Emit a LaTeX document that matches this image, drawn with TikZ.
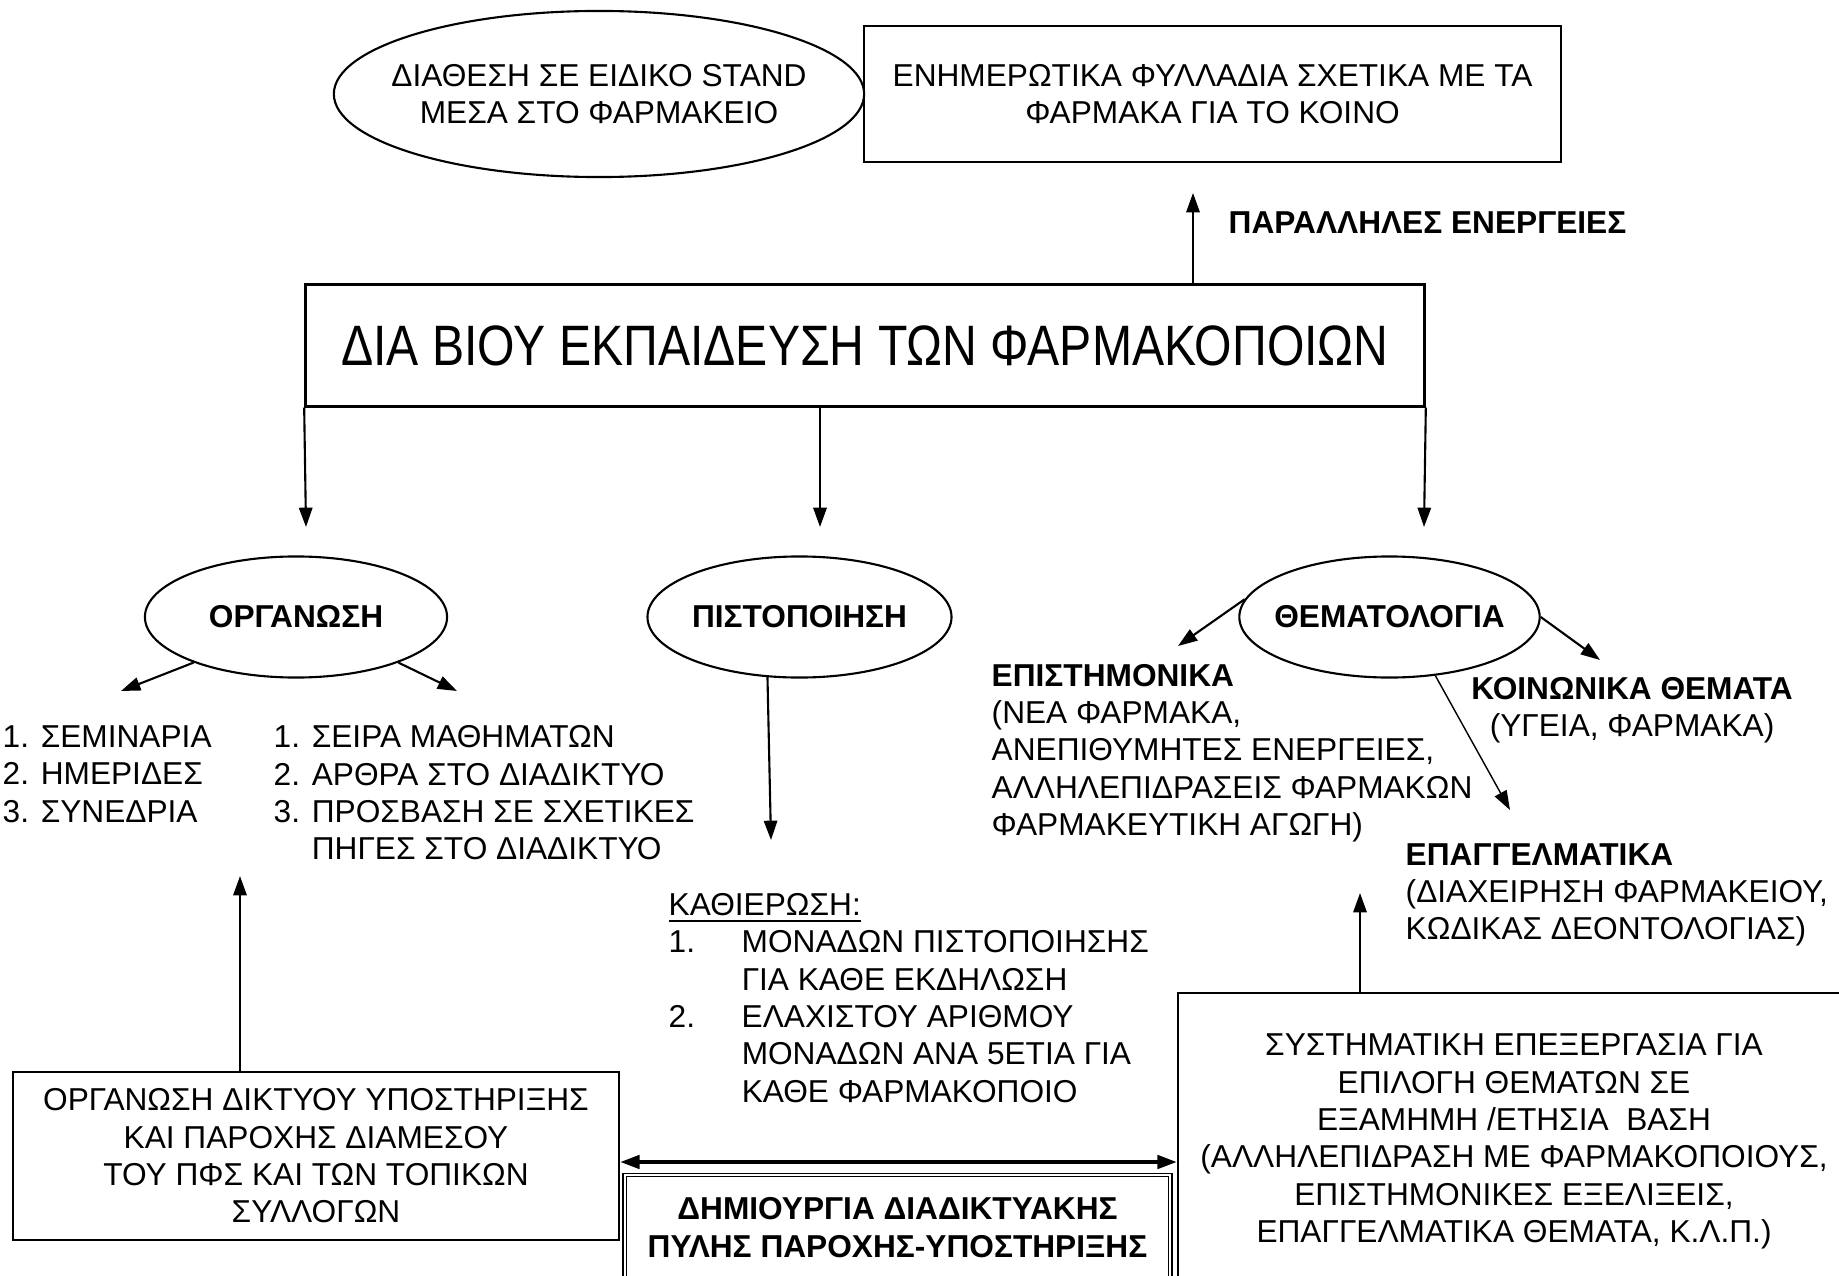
\documentclass[tikz,border=0pt]{standalone}
\usepackage{fontspec}
\setmainfont{Liberation Sans}
\newfontfamily\titlefont{Liberation Sans}[FakeStretch=0.845]
\usepackage{tikz}
\usetikzlibrary{shapes.geometric, arrows.meta, positioning, calc}

\newcommand{\listno}[1]{\makebox[0.73cm][l]{#1}}

\begin{document}
\begin{tikzpicture}[
    x=0.01cm, y=-0.01cm,
    >={Triangle[length=5.5pt, width=3.8pt]},
    every node/.style={font=\fontsize{9}{10.6}\selectfont, inner sep=0pt},
    bold/.style={font=\fontsize{9}{10.6}\selectfont\bfseries},
    box/.style={rectangle, draw, line width=0.6pt, align=center},
    oval/.style={ellipse, draw, line width=0.6pt, align=center, minimum height=1.21cm},
    notes/.style={align=left, anchor=west},
    link/.style={->, line width=0.6pt}
]
    \useasboundingbox (0,0) rectangle (1839,1276);
    \clip (0,0) rectangle (1839,1276);

    % parallel actions
    \node (stand) [oval, inner xsep=-0.23cm, minimum width=5.3cm, minimum height=1.66cm] at (599,94) {ΔΙΑΘΕΣΗ ΣΕ ΕΙΔΙΚΟ STAND\\ΜΕΣΑ ΣΤΟ ΦΑΡΜΑΚΕΙΟ};
    \node (leaflet) [box, minimum width=6.97cm, minimum height=1.36cm] at (1212.5,94) {ΕΝΗΜΕΡΩΤΙΚΑ ΦΥΛΛΑΔΙΑ ΣΧΕΤΙΚΑ ΜΕ ΤΑ\\ΦΑΡΜΑΚΑ ΓΙΑ ΤΟ ΚΟΙΝΟ};

    \node (main) [box, line width=0.85pt, minimum width=11.18cm, minimum height=1.21cm, font=\titlefont\fontsize{16.2}{19}\selectfont] at (865,345.5) {ΔΙΑ ΒΙΟΥ ΕΚΠΑΙΔΕΥΣΗ ΤΩΝ ΦΑΡΜΑΚΟΠΟΙΩΝ};

    \coordinate (parTip) at (1193,193);
    \draw[link] (main.north -| parTip) -- (parTip);
    \node (parLbl) [bold, anchor=west] at (1228,223) {ΠΑΡΑΛΛΗΛΕΣ ΕΝΕΡΓΕΙΕΣ};

    % three branches
    \node (org) [oval, bold, minimum width=3.02cm] at (296,617) {ΟΡΓΑΝΩΣΗ};
    \node (pist) [oval, bold, minimum width=3.01cm] at (799.5,617) {ΠΙΣΤΟΠΟΙΗΣΗ};
    \node (them) [oval, bold, inner xsep=-0.09cm, minimum width=2.99cm] at (1389.5,617) {ΘΕΜΑΤΟΛΟΓΙΑ};

    \coordinate (orgIn) at (306,527);
    \coordinate (pistIn) at (820,527);
    \coordinate (themIn) at (1424,527);
    \draw[link] (main.south west) -- (orgIn);
    \draw[link] (main.south -| pistIn) -- (pistIn);
    \draw[link] (main.south east) -- (themIn);

    % organisation
    \node (seminars) [notes] at (2,774) {1. ΣΕΜΙΝΑΡΙΑ\\2. ΗΜΕΡΙΔΕΣ\\3. ΣΥΝΕΔΡΙΑ};
    \node (courses) [notes] at (273,793) {1. ΣΕΙΡΑ ΜΑΘΗΜΑΤΩΝ\\2. ΑΡΘΡΑ ΣΤΟ ΔΙΑΔΙΚΤΥΟ\\3. ΠΡΟΣΒΑΣΗ ΣΕ ΣΧΕΤΙΚΕΣ\\\hphantom{3. }ΠΗΓΕΣ ΣΤΟ ΔΙΑΔΙΚΤΥΟ};
    \coordinate (semTip) at (121,691);
    \coordinate (crsTip) at (457,691);
    \draw[link] (org.204) -- (semTip);
    \draw[link] (org.336) -- (crsTip);

    % certification
    \node (credits) [notes] at (668,998) {\underline{ΚΑΘΙΕΡΩΣΗ:}\\\listno{1.}ΜΟΝΑΔΩΝ ΠΙΣΤΟΠΟΙΗΣΗΣ\\\listno{}ΓΙΑ ΚΑΘΕ ΕΚΔΗΛΩΣΗ\\\listno{2.}ΕΛΑΧΙΣΤΟΥ ΑΡΙΘΜΟΥ\\\listno{}ΜΟΝΑΔΩΝ ΑΝΑ 5ΕΤΙΑ ΓΙΑ\\\listno{}ΚΑΘΕ ΦΑΡΜΑΚΟΠΟΙΟ};
    \coordinate (credTip) at (771,840);
    \draw[link] (pist.242) -- (credTip);

    % topics
    \node (sci) [notes] at (991,753) {\textbf{ΕΠΙΣΤΗΜΟΝΙΚΑ}\\(ΝΕΑ ΦΑΡΜΑΚΑ,\\ΑΝΕΠΙΘΥΜΗΤΕΣ ΕΝΕΡΓΕΙΕΣ,\\ΑΛΛΗΛΕΠΙΔΡΑΣΕΙΣ ΦΑΡΜΑΚΩΝ\\ΦΑΡΜΑΚΕΥΤΙΚΗ ΑΓΩΓΗ)};
    \node (social) [align=center] at (1632,710) {\textbf{ΚΟΙΝΩΝΙΚΑ ΘΕΜΑΤΑ}\\(ΥΓΕΙΑ, ΦΑΡΜΑΚΑ)};
    \node (prof) [notes] at (1405,895) {\textbf{ΕΠΑΓΓΕΛΜΑΤΙΚΑ}\\(ΔΙΑΧΕΙΡΗΣΗ ΦΑΡΜΑΚΕΙΟΥ,\\ΚΩΔΙΚΑΣ ΔΕΟΝΤΟΛΟΓΙΑΣ)};
    \coordinate (sciTip) at (1178,646);
    \coordinate (socTip) at (1600,660);
    \coordinate (profTip) at (1510,810);
    \draw[link] (them.173) -- (sciTip);
    \draw[link] (them.east) -- (socTip);
    \draw[link, line width=0.4pt] (them.308) -- (profTip);

    % support
    \node (net) [box, minimum width=6.06cm, minimum height=1.68cm] at (316,1156) {ΟΡΓΑΝΩΣΗ ΔΙΚΤΥΟΥ ΥΠΟΣΤΗΡΙΞΗΣ\\ΚΑΙ ΠΑΡΟΧΗΣ ΔΙΑΜΕΣΟΥ\\ΤΟΥ ΠΦΣ ΚΑΙ ΤΩΝ ΤΟΠΙΚΩΝ\\ΣΥΛΛΟΓΩΝ};
    \node (portal) [box, bold, double, line width=0.4pt, double distance=0.6pt, minimum width=5.45cm, minimum height=1.05cm] at (897.5,1227.5) {ΔΗΜΙΟΥΡΓΙΑ ΔΙΑΔΙΚΤΥΑΚΗΣ\\ΠΥΛΗΣ ΠΑΡΟΧΗΣ-ΥΠΟΣΤΗΡΙΞΗΣ};
    \node (plan) [box, minimum width=6.72cm, minimum height=2.97cm] at (1514,1141.5) {ΣΥΣΤΗΜΑΤΙΚΗ ΕΠΕΞΕΡΓΑΣΙΑ ΓΙΑ\\ΕΠΙΛΟΓΗ ΘΕΜΑΤΩΝ ΣΕ\\ΕΞΑΜΗΜΗ /ΕΤΗΣΙΑ~ ΒΑΣΗ\\(ΑΛΛΗΛΕΠΙΔΡΑΣΗ ΜΕ ΦΑΡΜΑΚΟΠΟΙΟΥΣ,\\ΕΠΙΣΤΗΜΟΝΙΚΕΣ ΕΞΕΛΙΞΕΙΣ,\\ΕΠΑΓΓΕΛΜΑΤΙΚΑ ΘΕΜΑΤΑ, Κ.Λ.Π.)};

    \coordinate (netTip) at (240,876);
    \coordinate (planTip) at (1360,893);
    \coordinate (portalRow) at (0,1162);
    \draw[link] (net.north -| netTip) -- (netTip);
    \draw[link] (plan.north -| planTip) -- (planTip);
    \draw[<->, line width=1pt] (net.east |- portalRow) -- (plan.west |- portalRow);
\end{tikzpicture}
\end{document}
